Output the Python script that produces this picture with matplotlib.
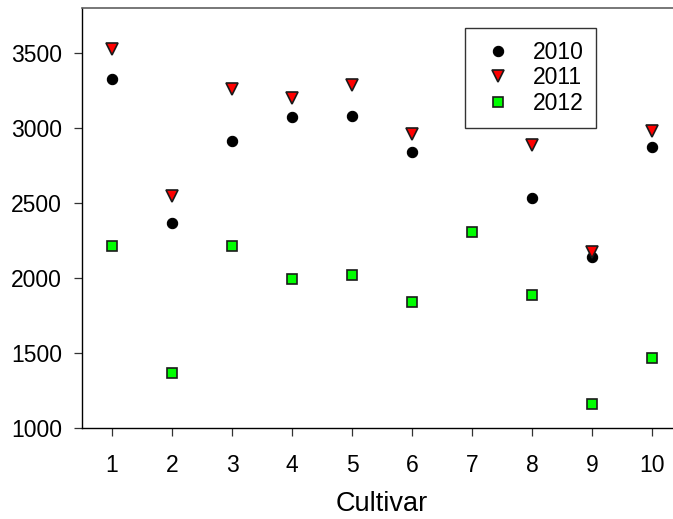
import matplotlib.pyplot as plt

plt.rcParams["font.family"] = ["Liberation Sans", "DejaVu Sans"]

# Yield per cultivar for three seasons
cultivars = [1, 2, 3, 4, 5, 6, 7, 8, 9, 10]
yield_2010 = [3330, 2368, 2912, 3076, 3078, 2838, None, 2535, 2142, 2876]
yield_2011 = [3527, 2545, 3260, 3200, 3290, 2960, None, 2885, 2175, 2980]
yield_2012 = [2213, 1369, 2213, 1991, 2020, 1842, 2304, 1887, 1158, 1464]

yticks = [1000, 1500, 2000, 2500, 3000, 3500]


def present(xs, ys):
    pairs = [(x, y) for x, y in zip(xs, ys) if y is not None]
    return [p[0] for p in pairs], [p[1] for p in pairs]


fig = plt.figure(figsize=(6.73, 5.19), dpi=100)
# axes run slightly past the right edge of the figure
ax = fig.add_axes([82 / 673, 1 - 428 / 519, 600 / 673, 420 / 519])

x, y = present(cultivars, yield_2010)
ax.plot(x, y, "o", color="black", markersize=7.4, markeredgecolor="black",
        markeredgewidth=0.8, label="2010", zorder=3)
x, y = present(cultivars, yield_2011)
ax.plot(x, y, "v", color="#ff0000", markersize=8.0, markeredgecolor="#1a1a1a",
        markeredgewidth=1.2, label="2011", zorder=4)
x, y = present(cultivars, yield_2012)
ax.plot(x, y, "s", color="#00ff00", markersize=6.6, markeredgecolor="#1a1a1a",
        markeredgewidth=1.2, label="2012", zorder=5)

ax.set_xlim(0.5, 10.5)
ax.set_ylim(1000, 3800)
ax.set_xticks(cultivars)
ax.set_yticks(yticks)
ax.tick_params(axis="both", direction="out", length=5.5, width=0.9,
               labelsize=16.5, color="#333333")
ax.tick_params(axis="x", pad=13)
ax.tick_params(axis="y", pad=9)

ax.spines["left"].set_linewidth(1.0)
ax.spines["bottom"].set_linewidth(1.0)
ax.spines["top"].set_color("#606060")
ax.spines["top"].set_linewidth(1.2)
ax.spines["right"].set_visible(False)

ax.set_xlabel("Cultivar", fontsize=19.5, labelpad=10)

leg = ax.legend(loc="upper left", bbox_to_anchor=(465 / 673, 1 - 28 / 519),
                bbox_transform=fig.transFigure, fontsize=16.5, numpoints=1,
                fancybox=False, framealpha=1, edgecolor="#333333",
                borderpad=0.55, handlelength=1.8, handletextpad=0.6,
                labelspacing=0.12, borderaxespad=0)
leg.get_frame().set_linewidth(1.0)

fig.savefig("out.png", dpi=100)
